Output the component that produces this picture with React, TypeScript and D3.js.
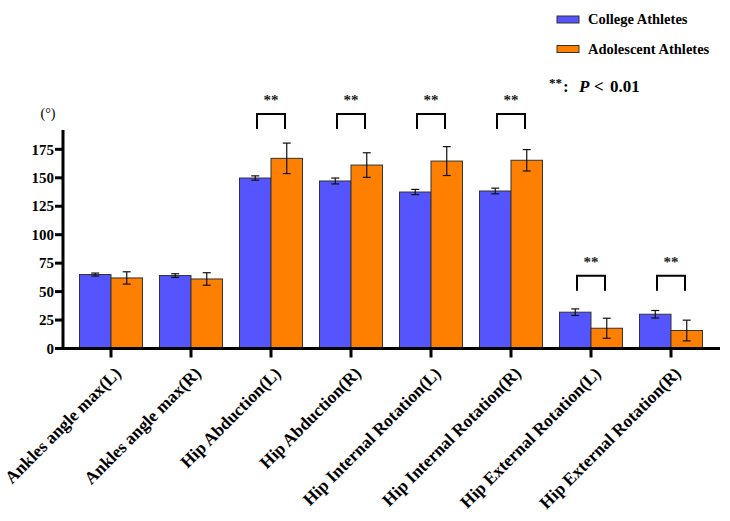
import React from "react";
import * as d3 from "d3";

const categories = [
  "Ankles angle max(L)",
  "Ankles angle max(R)",
  "Hip Abduction(L)",
  "Hip Abduction(R)",
  "Hip Internal Rotation(L)",
  "Hip Internal Rotation(R)",
  "Hip External Rotation(L)",
  "Hip External Rotation(R)",
];
const collegeMean = [65.0, 64.1, 149.8, 147.2, 137.5, 138.4, 31.9, 30.1];
const collegeSd = [1.3, 1.6, 1.9, 2.6, 2.3, 2.5, 2.9, 3.3];
const adolescentMean = [62.0, 61.1, 167.1, 161.2, 164.7, 165.4, 17.8, 15.8];
const adolescentSd = [5.4, 5.5, 13.4, 10.8, 12.7, 9.4, 8.8, 9.1];
// bracket level (degrees) for significant pairs, null where no difference
const bracketLevel: (number | null)[] = [null, null, 206, 206, 206, 206, 64, 64];
const yTicks = [0, 25, 50, 75, 100, 125, 150, 175];
const seriesNames = ["College Athletes", "Adolescent Athletes"];

const BLUE = "#5555ff";
const ORANGE = "#ff8000";
const FONT = "'Liberation Serif', 'Times New Roman', serif";

export default function App() {
  const width = 730;
  const height = 521;
  const axisLeft = 63;
  const axisRight = 720;
  const y0 = 348.5;

  const x = d3.scaleBand<string>().domain(categories).range([71, 711]).padding(0);
  const y = d3.scaleLinear().domain([0, 192]).range([y0, 130]);
  const barW = 31.5;
  const bracketDrop = 15;

  return (
    <svg
      width={width}
      height={height}
      style={{ position: "absolute", left: 0, top: 0, background: "#fff" }}
      fontFamily={FONT}
    >
      {/* bars with error bars */}
      {categories.map((c, i) => {
        const cx = (x(c) as number) + x.bandwidth() / 2;
        const groups = [
          { m: collegeMean[i], s: collegeSd[i], color: BLUE, bx: cx - barW },
          { m: adolescentMean[i], s: adolescentSd[i], color: ORANGE, bx: cx },
        ];
        return (
          <g key={c}>
            {groups.map((g, k) => {
              const mid = g.bx + barW / 2;
              return (
                <g key={k}>
                  <rect
                    x={g.bx}
                    y={y(g.m)}
                    width={barW}
                    height={y0 - y(g.m)}
                    fill={g.color}
                    stroke="#333"
                    strokeWidth={1}
                  />
                  <line x1={mid} x2={mid} y1={y(g.m + g.s)} y2={y(g.m - g.s)} stroke="#111" strokeWidth={1.2} />
                  <line x1={mid - 4} x2={mid + 4} y1={y(g.m + g.s)} y2={y(g.m + g.s)} stroke="#111" strokeWidth={1.2} />
                  <line x1={mid - 4} x2={mid + 4} y1={y(g.m - g.s)} y2={y(g.m - g.s)} stroke="#111" strokeWidth={1.2} />
                </g>
              );
            })}
          </g>
        );
      })}

      {/* significance brackets */}
      {categories.map((c, i) => {
        const lvl = bracketLevel[i];
        if (lvl === null) return null;
        const cx = (x(c) as number) + x.bandwidth() / 2;
        const top = y(lvl);
        return (
          <g key={"b" + c}>
            <path
              d={`M${cx - 14},${top + bracketDrop} V${top} H${cx + 14} V${top + bracketDrop}`}
              fill="none"
              stroke="#000"
              strokeWidth={2}
            />
            <text x={cx} y={top - 9} textAnchor="middle" fontSize={15} fontWeight="bold" fill="#222">
              **
            </text>
          </g>
        );
      })}

      {/* y axis */}
      <line x1={axisLeft} x2={axisLeft} y1={y(192)} y2={y0 + 1.5} stroke="#000" strokeWidth={3} />
      {yTicks.map((t) => (
        <g key={t}>
          <line x1={axisLeft - 8} x2={axisLeft} y1={y(t)} y2={y(t)} stroke="#000" strokeWidth={3} />
          <text x={axisLeft - 9} y={y(t)} dy="0.35em" textAnchor="end" fontSize={15} fontWeight="bold">
            {t}
          </text>
        </g>
      ))}
      <text x={48} y={118} textAnchor="middle" fontSize={14} fill="#000">
        (°)
      </text>

      {/* x axis */}
      <line x1={axisLeft - 1.5} x2={axisRight} y1={y0} y2={y0} stroke="#000" strokeWidth={3} />
      {categories.map((c) => {
        const cx = (x(c) as number) + x.bandwidth() / 2;
        return (
          <g key={"t" + c}>
            <line x1={cx} x2={cx} y1={y0} y2={y0 + 9} stroke="#000" strokeWidth={3} />
            <text
              transform={`translate(${cx + 11},${y0 + 26}) rotate(-45)`}
              textAnchor="end"
              fontSize={17.5}
              fontWeight="bold"
            >
              {c}
            </text>
          </g>
        );
      })}

      {/* legend */}
      {seriesNames.map((n, i) => (
        <g key={n} transform={`translate(557,${16 + i * 29.5})`}>
          <rect x={0} y={0} width={22} height={7} fill={i === 0 ? BLUE : ORANGE} stroke="#333" strokeWidth={1} />
          <text x={31} y={8} fontSize={14.5} fontWeight="bold">
            {n}
          </text>
        </g>
      ))}
      <g fontWeight="bold">
        <text x={549} y={87} fontSize={13}>**</text>
        <text x={563} y={91.5} fontSize={17}>:</text>
        <text x={579} y={91.5} fontSize={17} fontStyle="italic">P</text>
        <text x={594} y={91.5} fontSize={17}>{"<"}</text>
        <text x={610} y={91.5} fontSize={17}>0.01</text>
      </g>
    </svg>
  );
}
